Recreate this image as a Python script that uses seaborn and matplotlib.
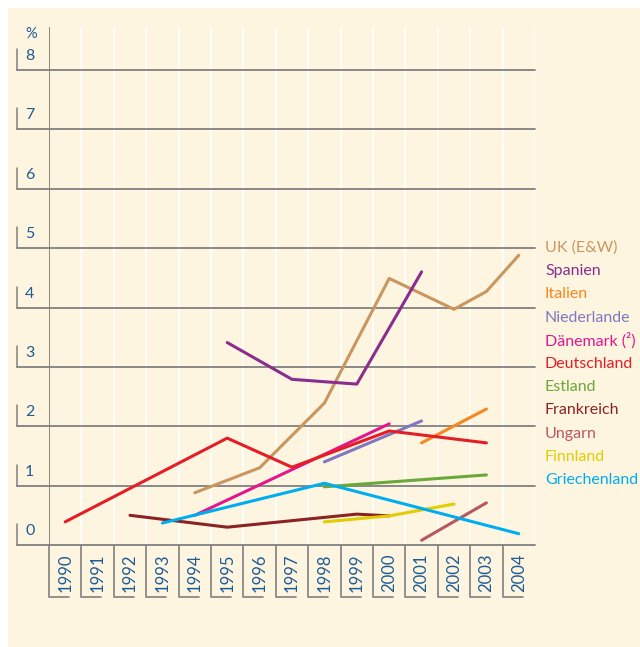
import seaborn as sns
import matplotlib.pyplot as plt
import matplotlib.patches as mpatches
import numpy as np
import pandas as pd

# Jahre und Werte (%), NaN = keine Angabe
jahre = list(range(1990, 2005))
nan = np.nan
uk =           [nan, nan, nan, nan, 0.88, nan, 1.30, nan, 2.39, nan, 4.49, nan, 3.97, 4.27, 4.88]
spanien =      [nan, nan, nan, nan, nan, 3.41, nan, 2.79, nan, 2.71, nan, 4.60, nan, nan, nan]
italien =      [nan, nan, nan, nan, nan, nan, nan, nan, nan, nan, nan, 1.72, nan, 2.29, nan]
niederlande =  [nan, nan, nan, nan, nan, nan, nan, nan, 1.40, nan, nan, 2.09, nan, nan, nan]
daenemark =    [nan, nan, nan, nan, 0.50, nan, nan, nan, nan, nan, 2.04, nan, nan, nan, nan]
deutschland =  [0.39, nan, nan, nan, nan, 1.80, nan, 1.31, nan, nan, 1.92, nan, nan, 1.72, nan]
estland =      [nan, nan, nan, nan, nan, nan, nan, nan, 0.98, nan, nan, nan, nan, 1.18, nan]
frankreich =   [nan, nan, 0.50, nan, nan, 0.30, nan, nan, nan, 0.52, 0.49, nan, nan, nan, nan]
ungarn =       [nan, nan, nan, nan, nan, nan, nan, nan, nan, nan, nan, 0.08, nan, 0.71, nan]
finnland =     [nan, nan, nan, nan, nan, nan, nan, nan, 0.39, nan, 0.49, nan, 0.69, nan, nan]
griechenland = [nan, nan, nan, 0.37, nan, nan, nan, nan, 1.04, nan, nan, nan, nan, nan, 0.19]

laender = ["UK (E&W)", "Spanien", "Italien", "Niederlande", "Dänemark (²)", "Deutschland",
           "Estland", "Frankreich", "Ungarn", "Finnland", "Griechenland"]
werte = [uk, spanien, italien, niederlande, daenemark, deutschland,
         estland, frankreich, ungarn, finnland, griechenland]
farben = ["#C9965F", "#8A2D8C", "#F7861F", "#7F78C0", "#E2178E", "#E41E26",
          "#6AA83A", "#8B2323", "#B85762", "#E3CC00", "#00AEEF"]
y_ticks = [0, 1, 2, 3, 4, 5, 6, 7, 8]

rows = []
for land, w in zip(laender, werte):
    for j, v in zip(jahre, w):
        if not np.isnan(v):
            rows.append({"land": land, "jahr": j, "wert": v})
df = pd.DataFrame(rows)

sns.set_style("white")
plt.rcParams['font.family'] = ['Lato', 'DejaVu Sans']

cream = "#FEF5E1"
grau = "#808080"
blau = "#1E5B94"

W, H = 640, 647
fig = plt.figure(figsize=(W / 100, H / 100), dpi=100, facecolor="white")
fig.patches.append(mpatches.Rectangle((8 / W, 0), 1, 1 - 8 / H, transform=fig.transFigure,
                                      facecolor=cream, edgecolor="none", zorder=-10))

left, right, top, bottom = 49, 535, 27, 545
ax = fig.add_axes([left / W, 1 - bottom / H, (right - left) / W, (bottom - top) / H])
ax.set_facecolor(cream)
px_y = (bottom - 70) / 8.0
px_x = (right - left) / 15.0
ax.set_xlim(1989.5, 2004.5)
ax.set_ylim(0, (bottom - top) / px_y)
for s in ax.spines.values():
    s.set_visible(False)
ax.set_xticks([])
ax.set_yticks([])

# weisse Spaltentrenner
for j in jahre:
    ax.axvline(j + 0.5, color="white", lw=1.2, zorder=0)
ax.axvline(1989.5, color=grau, lw=1.3, zorder=1)

# horizontale Linien mit Markierungen und Beschriftung
x_links = 1989.5 - (left - 17) / px_x
for t in y_ticks:
    ax.plot([x_links, 2004.5], [t, t], color=grau, lw=1.3, clip_on=False, zorder=1)
    ax.plot([x_links, x_links], [t, t + 21 / px_y], color=grau, lw=1.1, clip_on=False, zorder=1)
    ax.text(x_links + 8 / px_x, t + 7 / px_y, str(t), color=blau, fontsize=11.5,
            ha="left", va="bottom", clip_on=False)
ax.text(x_links + 8 / px_x, (bottom - 34) / px_y, "%", color=blau, fontsize=10.5,
        ha="left", va="center", clip_on=False)

# Jahreslabels mit Klammern
for j in jahre:
    x0 = j - 0.5
    yb = -(597 - bottom) / px_y
    ax.plot([x0, x0, x0 + 20 / px_x], [0, yb, yb], color=grau, lw=1.2, clip_on=False)
    ax.text(j, -8 / px_y, str(j), rotation=90, color=blau, fontsize=12,
            ha="center", va="top", clip_on=False)

sns.lineplot(data=df, x="jahr", y="wert", hue="land", hue_order=laender,
             palette=farben, legend=False, lw=2.2, ax=ax, zorder=3)
ax.set_xlabel("")
ax.set_ylabel("")

# Beschriftung rechts
y0 = 248
for i, (land, c) in enumerate(zip(laender, farben)):
    fig.text(545 / W, 1 - (y0 + i * 23.2) / H, land, color=c, fontsize=11.5,
             ha="left", va="center")

fig.savefig("out.png", dpi=100, facecolor="white")
